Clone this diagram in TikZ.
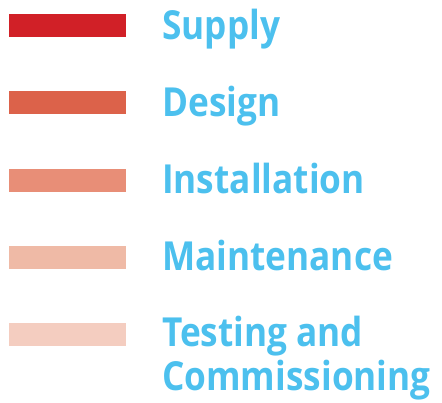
\documentclass[tikz,border=0pt]{standalone}
\usepackage{fontspec}
\newfontfamily\labfont{Open Sans Bold}[FakeStretch=0.88]
\definecolor{cA}{HTML}{D12027}
\definecolor{cB}{HTML}{DC624A}
\definecolor{cC}{HTML}{E88E77}
\definecolor{cD}{HTML}{EFBAA6}
\definecolor{cE}{HTML}{F4CDC0}
\definecolor{txt}{HTML}{4CC0EE}
\begin{document}
\begin{tikzpicture}[x=1pt,y=-1pt,
  swatch/.style={minimum width=117pt,minimum height=23pt,inner sep=0pt,draw=none,anchor=north west},
  lab/.style={text=txt,font=\fontsize{40}{44}\labfont,inner sep=0pt,anchor=base west,align=left}]
\useasboundingbox (0,0) rectangle (442,403);
\node[swatch,fill=cA] (s1) at (9,14) {};
\node[swatch,fill=cB] (s2) at (9,91) {};
\node[swatch,fill=cC] (s3) at (9,169) {};
\node[swatch,fill=cD] (s4) at (9,246) {};
\node[swatch,fill=cE] (s5) at (9,323) {};
\node[lab] (l1) at (162,40) {Supply};
\node[lab] (l2) at (162,117) {Design};
\node[lab] (l3) at (162,194) {Installation};
\node[lab] (l4) at (162,271) {Maintenance};
\node[lab] (l5) at (162,347) {Testing and};
\node[lab] (l6) at (162,391) {Commissioning};
\end{tikzpicture}
\end{document}
